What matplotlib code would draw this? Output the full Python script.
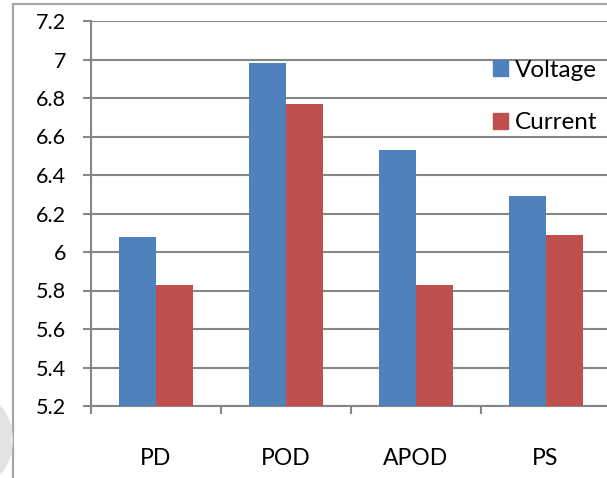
import numpy as np
import matplotlib.pyplot as plt
from matplotlib.patches import Rectangle, Ellipse

# donnees du graphique
categories = ["PD", "POD", "APOD", "PS"]
voltage = [6.08, 6.98, 6.53, 6.29]
current = [5.83, 6.77, 5.83, 6.09]
series_labels = ["Voltage", "Current"]
yticks = [5.2, 5.4, 5.6, 5.8, 6.0, 6.2, 6.4, 6.6, 6.8, 7.0, 7.2]
ytick_labels = ["5.2", "5.4", "5.6", "5.8", "6", "6.2", "6.4", "6.6", "6.8", "7", "7.2"]

plt.rcParams['font.family'] = ['Lato', 'DejaVu Sans']

W, H = 607, 478
fig = plt.figure(figsize=(W / 100, H / 100), dpi=100)

# cadre exterieur (coupe a droite et en bas)
fig.patches.append(Rectangle((13 / W, -0.1), 1.2, (H - 4) / H + 0.1,
                             transform=fig.transFigure, fill=False,
                             edgecolor="#a6a6a6", linewidth=1.6))
# tache grise en bas a gauche
fig.patches.append(Ellipse((-22 / W, 1 - 440 / H), 70 / W, 90 / H,
                           transform=fig.transFigure, facecolor="#e3e3e3",
                           edgecolor="none"))

left, right = 91 / W, 610.5 / W
bottom, top = 1 - 406 / H, 1 - 21 / H
ax = fig.add_axes([left, bottom, right - left, top - bottom])

x = np.arange(len(categories))
w = 0.285
gris = "#868686"

ax.bar(x - w / 2, voltage, w, color="#4F81BD", label=series_labels[0], zorder=3)
ax.bar(x + w / 2, current, w, color="#C0504D", label=series_labels[1], zorder=3)

ax.set_ylim(5.2, 7.2)
ax.set_xlim(-0.5, len(categories) - 0.5)
ax.set_yticks(yticks)
ax.set_yticklabels(ytick_labels)
ax.yaxis.grid(True, color=gris, linewidth=1.5, zorder=0)
ax.set_axisbelow(True)

# ticks aux limites des categories, labels au centre
ax.set_xticks(np.arange(len(categories) + 1) - 0.5)
ax.set_xticklabels([])
ax.set_xticks(x, minor=True)
ax.set_xticklabels(categories, minor=True)
ax.tick_params(axis="x", which="major", length=6, width=1.5, color=gris, direction="out")
ax.tick_params(axis="x", which="minor", length=0, pad=30, labelsize=16.5)
ax.tick_params(axis="y", length=6, width=1.5, color=gris, direction="out", pad=12, labelsize=15.5)

for s in ["top", "right"]:
    ax.spines[s].set_visible(False)
for s in ["left", "bottom"]:
    ax.spines[s].set_color(gris)
    ax.spines[s].set_linewidth(1.5)

handles = [Rectangle((0, 0), 1, 1, color="#4F81BD"), Rectangle((0, 0), 1, 1, color="#C0504D")]
fig.legend(handles, series_labels, loc="upper left",
           bbox_to_anchor=(483 / W, 1 - 50 / H), frameon=False, fontsize=17.5,
           handlelength=0.62, handleheight=0.62, handletextpad=0.3,
           labelspacing=1.3, borderaxespad=0)

plt.savefig("out.png", dpi=100)
plt.close()
